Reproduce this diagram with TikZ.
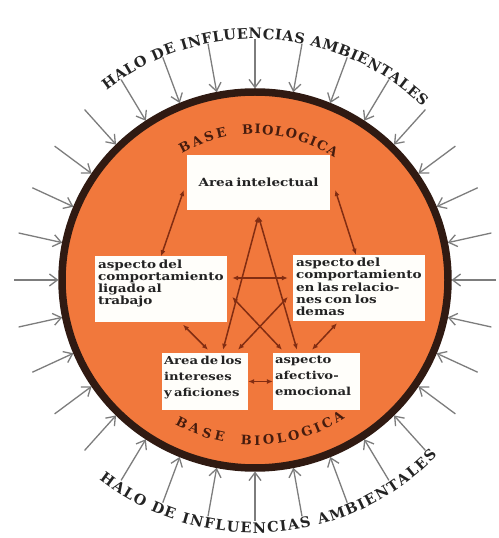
\documentclass[tikz,border=0pt]{standalone}
\usepackage{fontspec}
\setmainfont{DejaVu Serif}
\newfontfamily\wideserif{DejaVu Serif}[FakeStretch=1.2]
\usetikzlibrary{arrows.meta,decorations.text}
\definecolor{orangec}{RGB}{241,120,60}
\definecolor{borderc}{RGB}{48,26,18}
\definecolor{linkc}{RGB}{130,45,18}
\definecolor{haloc}{RGB}{125,125,125}
\definecolor{boxc}{RGB}{255,254,250}
\definecolor{txtc}{RGB}{35,35,35}
\definecolor{basec}{RGB}{70,28,14}
\newcommand{\boxtxt}{\wideserif\bfseries\fontsize{11.3}{12.3}\selectfont\spaceskip=0.25em plus 0.1em\hfuzz=20pt\color{txtc}}
\newcommand{\boxtxtb}{\wideserif\bfseries\fontsize{11}{16}\selectfont\spaceskip=0.22em plus 0.1em\hfuzz=20pt\color{txtc}}
\newcommand{\arcfont}{\bfseries\fontsize{14.5}{14.5}\selectfont}
\newcommand{\basefont}{\bfseries\fontsize{13}{13}\selectfont}
\begin{document}
\begin{tikzpicture}[x=1pt,y=1pt,
  box/.style={fill=boxc, draw=none, inner sep=0pt},
  link/.style={draw=linkc, line width=1.5pt, {Latex[length=6pt,width=5pt]}-{Latex[length=6pt,width=5pt]}},
  halo/.style={draw=haloc, line width=1.3pt, -{Straight Barb[length=8pt,width=12pt]}},
  halotext/.style={decorate, decoration={text along path, text color=txtc, text align=fit to path}},
  basetext/.style={decorate, decoration={text along path, text color=basec, text align=fit to path}}]
\useasboundingbox[fill=white] (0,0) rectangle (498,538);
\coordinate (C) at (255,258);
% influence arrows
\foreach \a in {0,11.25,...,349} {
  \draw[halo] ([shift={(\a:241)}]C) -- ([shift={({196.5*cos(\a)},{191.5*sin(\a)})}]C);
}
% main disc
\draw[line width=7.5pt, draw=borderc, fill=orangec] (C) ellipse[x radius=193, y radius=188];
% arc texts
\path[halotext, decoration={text={|\arcfont|HALO DE INFLUENCIAS AMBIENTALES}}]
  ([shift={(128:241)}]C) arc[start angle=128, end angle=46, radius=241];
\path[halotext, decoration={text={|\arcfont|HALO DE INFLUENCIAS AMBIENTALES}}]
  ([shift={(232:253)}]C) arc[start angle=232, end angle=316, radius=253];
\path[basetext, decoration={text={|\basefont|BASE}}]
  ([shift={(120:146)}]C) arc[start angle=120, end angle=101, radius=146];
\path[basetext, decoration={text={|\basefont|BIOLOGICA}}]
  ([shift={(95:146)}]C) arc[start angle=95, end angle=57, radius=146];
\path[basetext, decoration={text={|\basefont|BASE}}]
  ([shift={(241:165)}]C) arc[start angle=241, end angle=259, radius=165];
\path[basetext, decoration={text={|\basefont|BIOLOGICA}}]
  ([shift={(265:165)}]C) arc[start angle=265, end angle=303, radius=165];
% boxes
\node[box, minimum width=143pt, minimum height=55pt] (A) at (258.5,355.5) {\boxtxt Area intelectual};
\node[box, minimum width=132pt, minimum height=66pt] (L) at (161,248.5)
  {\parbox[c][60pt][t]{126pt}{\boxtxt\raggedright \mbox{aspecto del}\\\mbox{comportamiento}\\\mbox{ligado al}\\\mbox{trabajo}}};
\node[box, minimum width=132pt, minimum height=66pt] (R) at (359,250)
  {\parbox[c][60pt][t]{126pt}{\boxtxt\raggedright \mbox{aspecto del}\\\mbox{comportamiento}\\\mbox{en las relacio-}\\\mbox{nes con los}\\\mbox{demas}}};
\node[box, minimum width=86pt, minimum height=57pt] (BL) at (205,156.5)
  {\parbox[c][51pt][t]{82pt}{\boxtxtb\raggedright \mbox{Area de los}\\\mbox{intereses}\\\mbox{y aficiones}}};
\node[box, minimum width=87pt, minimum height=57pt] (BR) at (316.5,156.5)
  {\parbox[c][51pt][t]{83pt}{\boxtxtb\raggedright \mbox{aspecto}\\\mbox{afectivo-}\\\mbox{emocional}}};
% pentagon links
\draw[link] ([shift={(-3,-7.5)}]A.west) -- (L.north);
\draw[link] ([shift={(5,-7.5)}]A.east) -- ([xshift=-3pt]R.north);
\draw[link] ([shift={(22,-2)}]L.south) -- ([shift={(3,3)}]BL.north);
\draw[link] ([shift={(-22,-2)}]R.south) -- ([shift={(-4.5,3)}]BR.north);
\draw[link] (BL.east) -- (BR.west);
% star links
\draw[link] ([yshift=-6pt]A.south) -- ([shift={(18,3)}]BL.north);
\draw[link] ([yshift=-6pt]A.south) -- ([shift={(-19.5,3)}]BR.north);
\draw[link] ([shift={(5,11.5)}]L.east) -- ([shift={(-5,10)}]R.west);
\draw[link] ([shift={(5,-7.5)}]L.east) -- ([shift={(-34.5,3)}]BR.north);
\draw[link] ([shift={(-5,-9)}]R.west) -- ([shift={(33,3)}]BL.north);
\end{tikzpicture}
\end{document}
